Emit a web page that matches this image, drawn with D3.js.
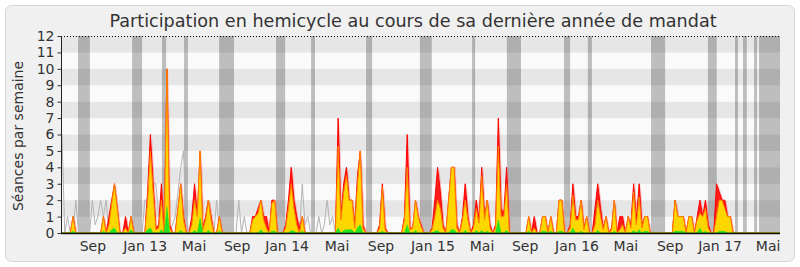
<!DOCTYPE html>
<html>
<head>
<meta charset="utf-8">
<script src="https://cdn.jsdelivr.net/npm/d3@7"></script>
<style>
  body { margin: 0; background: #fff; }
  text { font-family: "DejaVu Sans", sans-serif; }
</style>
</head>
<body>
<svg id="chart" width="800" height="267"></svg>
<script>
// weekly values, week 0 = early June 2012
var presence = [
  0,0,0,0,1,0,0,0,0,0, 0,0,0,0,0,1,0,1,2,3,
  1.5,0,0,1,0,1,0,0,0,0, 0,2.5,6,3,0.3,0.5,3,0,10,0.5,
  0,0,1.5,3,1,0,0,1,3,1, 5,0.3,1,2,1,0,0,1,0,0,
  0,0,0,0,0,0,0,0,0,1, 1,1.5,2,1,1,0,2,2,0,0,
  0,0.5,2,4,2,1,0.3,1,0,0, 0,0,0,0,0,0,0,0,0,0,
  7,1,3,4,2,2,0.5,3.5,5,0.5, 0,0,0,0,0,0.5,3,0.3,0,0,
  0,0,0,0,1,6,0.3,0.3,2,1, 0.5,0,0,0,0.3,2,4,2.5,0.5,0,
  2,4,4,0.5,0,1,3,1,0,0.5, 2,0.8,4,1,2,0.5,0,0.5,7,1.5,
  1.2,4,0,0,0,0,0,0,0,1, 0,1,0,0,1,1,0,1,0,0,
  2,2,0,0,0.5,3,1,1,2,0.3, 1,0,0,1.5,3,1.5,0.3,1,0,0.3,
  2,0,1,1,0,1,0.5,3,0.8,3, 0.5,1,1,0,0,0,0,0,0,0,
  0,0,2,1,1,1,0,1,1,0, 1,2,1,2,0.5,0,0,3,2.5,2,
  2,1,1,0,0,0,0,0,0,0, 0,0,0,0,0,0,0,0,0,0,
  0
];
var interventions = [
  0,0,0,0,1,0,0,0,0,0, 0,0,0,0,0,1,0,0.5,1.8,3,
  1.5,0,0,0.3,0,1,0,0,0,0, 0,2,5,2.5,0.2,0.3,2,0,10,0.3,
  0,0,1.5,3,0.8,0,0,0.5,2,1, 5,0.2,0.8,2,0.8,0,0,1,0,0,
  0,0,0,0,0,0,0,0,0,0.8, 1,1.2,2,0.8,0.3,0,1.8,2,0,0,
  0,0.3,1.5,3,1.5,0.5,0,1,0,0, 0,0,0,0,0,0,0,0,0,0,
  5.3,0.8,2.5,3.5,2,2,0.3,3,5,0.3, 0,0,0,0,0,0.3,2.8,0.2,0,0,
  0,0,0,0,0.8,4,0.2,0.3,2,1, 0.4,0,0,0,0.2,1,2,1.5,0.3,0,
  2,4,4,0.3,0,0.8,2,0.8,0,0.3, 1.5,0.6,3.5,0.8,2,0.3,0,0.3,5.3,1,
  1,3,0,0,0,0,0,0,0,1, 0,0.3,0,0,1,1,0,1,0,0,
  2,2,0,0,0.3,2.3,0.8,0.8,2,0.2, 1,0,0,0.5,2,1,0.2,1,0,0.2,
  2,0,0.2,0.5,0,1,0.3,2.5,0.5,2.2, 0.3,1,1,0,0,0,0,0,0,0,
  0,0,2,1,1,1,0,1,1,0, 0.8,1.2,1,1.5,0.3,0,0,1,2,2,
  1.5,1,1,0,0,0,0,0,0,0, 0,0,0,0,0,0,0,0,0,0,
  0
];
var questions = [
  0,0,0,0,0.1,0,0,0,0,0, 0,0,0,0,0,0.1,0,0,0.2,0.3,
  0,0,0,0,0,0.2,0,0,0,0, 0,0.2,0.3,0,0,0,0.2,0,1.6,0,
  0,0,0,0.15,0,0,0,0,0.15,0, 0.9,0,0,0.15,0,0,0,0.1,0,0,
  0,0,0,0,0,0,0,0,0,0, 0,0,0.2,0,0,0,0.1,0.1,0,0,
  0,0,0,0.15,0.1,0,0,0.1,0,0, 0,0,0,0,0,0,0,0,0,0,
  0.3,0,0.15,0.2,0.2,0.2,0,0.3,0.5,0, 0,0,0,0,0,0,0.1,0,0,0,
  0,0,0,0,0,0.5,0,0,0.15,0, 0,0,0,0,0,0.1,0.15,0,0,0,
  0,0.2,0.2,0,0,0,0.15,0,0,0, 0.15,0,0.15,0,0.1,0,0,0,0.8,0,
  0,0.15,0,0,0,0,0,0,0,0.1, 0,0,0,0,0.1,0.1,0,0.1,0,0,
  0.1,0.1,0,0,0,0.3,0,0,0.1,0, 0,0,0,0,0.15,0,0,0,0,0,
  0.1,0,0,0,0,0,0,0.15,0,0.2, 0,0.1,0.1,0,0,0,0,0,0,0,
  0,0,0.1,0.1,0.1,0.1,0,0,0,0, 0,0.3,0,0.1,0,0,0,0,0.1,0.1,
  0.1,0,0,0,0,0,0,0,0,0, 0,0,0,0,0,0,0,0,0,0,
  0
];
var mediane = [
  6,0,1,0,0,2,0,0,0,0, 0,2,0.5,1,2,1,2,0,0,0,
  0,0,0,0,0,0,0,0,0,0, 2,2,2,3,3,1,1,0.5,0,0,
  0.5,1,2.5,4,5,1,0,0,0,0, 0,0,0,0,0,0,2,0,0,0,
  0,0,0,0,2,0,1,0,0,0, 0,0,0,0,0,0,0,0,0,0,
  0,0,0,0,0,0,0,3,0.5,1, 0,0,0,1,0,0.5,2,0.5,1,0,
  0,0,0,0,0,0,0,0,0,0, 0,0,0,0,0,0,0,0,0,0,
  0,0,0,0,0,0,0,0,0,0, 0,0,0,0,0,0,0,0,0,0,
  0,0,0,0,0,0,0,0,0,0, 0,0,0,0,0,0,0,0,0,0,
  0,0,0,0,0,0,0,0,0,0, 0,0,0,0,0,0,0,0,0,0,
  0,0,0,0,0,0,0,0,0,0, 0,0,0,0,0,0,0,0,0,0,
  0,0,0,0,0,0,0,0,0,0, 0,0,0,0,0,0,0,0,0,0,
  0,0,0,0,0,0,0,0,0,0, 0,0,0,0,0,0,0,0,0,0,
  0,0,0,0,0,0,0,0,0,0, 0,0,0,0,0,0,0,0,0,0,
  0
];
// parliamentary holidays, [start week, end week]
var vacances = [
  [5.8,10.1],[25.4,29.0],[36.2,37.7],[44.2,45.6],[56.9,62.3],[77.5,80.8],
  [90.2,91.6],[110.1,112.3],[129.6,133.9],[148.5,149.6],[161.1,166.2],
  [181.8,184.0],[190.4,191.9],[213.3,218.4],[233.9,237.1],[243.7,244.8],
  [246.6,248.0],[250.6,251.7],[252.4,260]
];
var tickWeeks = [11.2, 30.1, 47.8, 63.4, 81.5, 99.6, 115.5, 134.3, 152.1, 167.7, 186.5, 204.2, 220.2, 238.3, 255.7];
var tickLabels = ['Sep', 'Jan 13', 'Mai', 'Sep', 'Jan 14', 'Mai', 'Sep', 'Jan 15', 'Mai', 'Sep', 'Jan 16', 'Mai', 'Sep', 'Jan 17', 'Mai'];
var yTicks = d3.range(0, 13);

var svg = d3.select('#chart');
var x = d3.scaleLinear().domain([0, 260]).range([62, 780]);
var y = d3.scaleLinear().domain([0, 12]).range([233, 36]);

// frame
svg.append('rect')
  .attr('x', 5.5).attr('y', 5.5).attr('width', 789).attr('height', 256)
  .attr('rx', 6)
  .style('fill', '#f0f0f0').style('stroke', '#d6d6d6');

svg.append('text')
  .attr('x', 413).attr('y', 27)
  .attr('text-anchor', 'middle')
  .style('font-size', '17.6px').style('fill', '#333')
  .text('Participation en hemicycle au cours de sa dernière année de mandat');

// horizontal stripes
svg.append('g').selectAll('rect')
  .data(d3.range(0, 12))
  .enter().append('rect')
  .attr('x', x(0)).attr('width', x(260) - x(0))
  .attr('y', function(d) { return y(d + 1); })
  .attr('height', function(d) { return y(d) - y(d + 1); })
  .style('fill', function(d) { return d % 2 ? '#e6e6e6' : '#fafafa'; });

// holidays
svg.append('g').selectAll('rect')
  .data(vacances)
  .enter().append('rect')
  .attr('x', function(d) { return x(d[0]); })
  .attr('width', function(d) { return x(d[1]) - x(d[0]); })
  .attr('y', y(12)).attr('height', y(0) - y(12))
  .style('fill', '#000').style('fill-opacity', 0.24);

var weeks = d3.range(presence.length);

var line = d3.line()
  .x(function(d) { return x(d); })
  .y(function(d) { return y(mediane[d]); });

function area(values) {
  return d3.area()
    .x(function(d) { return x(d); })
    .y0(y(0))
    .y1(function(d) { return y(values[d]); });
}

svg.append('path').datum(weeks)
  .attr('d', line)
  .style('fill', 'none').style('stroke', '#b4b4b4').style('stroke-width', 1);

// soft shadow of the presence area
svg.append('path').datum(weeks)
  .attr('d', area(presence))
  .attr('transform', 'translate(1.5,0)')
  .style('fill', '#ff6a6a').style('opacity', 0.45);

svg.append('path').datum(weeks)
  .attr('d', area(presence))
  .style('fill', '#ff1c1c').style('stroke', '#ff0000').style('stroke-width', 1);

svg.append('path').datum(weeks)
  .attr('d', area(interventions))
  .style('fill', '#ffd700').style('stroke', '#ff8000').style('stroke-width', 1);

svg.append('path').datum(weeks)
  .attr('d', area(questions))
  .style('fill', '#22e622').style('stroke', '#22dd22').style('stroke-width', 0.5);

// axes
svg.append('line')
  .attr('x1', 61).attr('x2', 781).attr('y1', 36.5).attr('y2', 36.5)
  .style('stroke', '#000').style('stroke-dasharray', '1,2');

svg.append('line')
  .attr('x1', 61.5).attr('x2', 61.5).attr('y1', 36).attr('y2', 234)
  .style('stroke', '#222');

svg.append('line')
  .attr('x1', 61).attr('x2', 780).attr('y1', 233.5).attr('y2', 233.5)
  .style('stroke', '#111').style('stroke-width', 1.5);

var yAxis = svg.append('g')
  .attr('transform', 'translate(61.5,0)')
  .call(d3.axisLeft(y).tickValues(yTicks).tickSize(4).tickPadding(3).tickFormat(d3.format('d')));
yAxis.select('.domain').remove();
yAxis.selectAll('line').style('stroke', '#333');
yAxis.selectAll('text')
  .style('font-size', '14px').style('fill', '#333')
  .style('font-family', '"DejaVu Sans", sans-serif');

svg.append('g').selectAll('text')
  .data(tickWeeks)
  .enter().append('text')
  .attr('x', function(d) { return x(d); })
  .attr('y', 250.5)
  .attr('text-anchor', 'middle')
  .style('font-size', '14px').style('fill', '#333')
  .text(function(d, i) { return tickLabels[i]; });

svg.append('text')
  .attr('transform', 'translate(23,136) rotate(-90)')
  .attr('text-anchor', 'middle')
  .style('font-size', '14px').style('fill', '#333')
  .text('Séances par semaine');
</script>
</body>
</html>
